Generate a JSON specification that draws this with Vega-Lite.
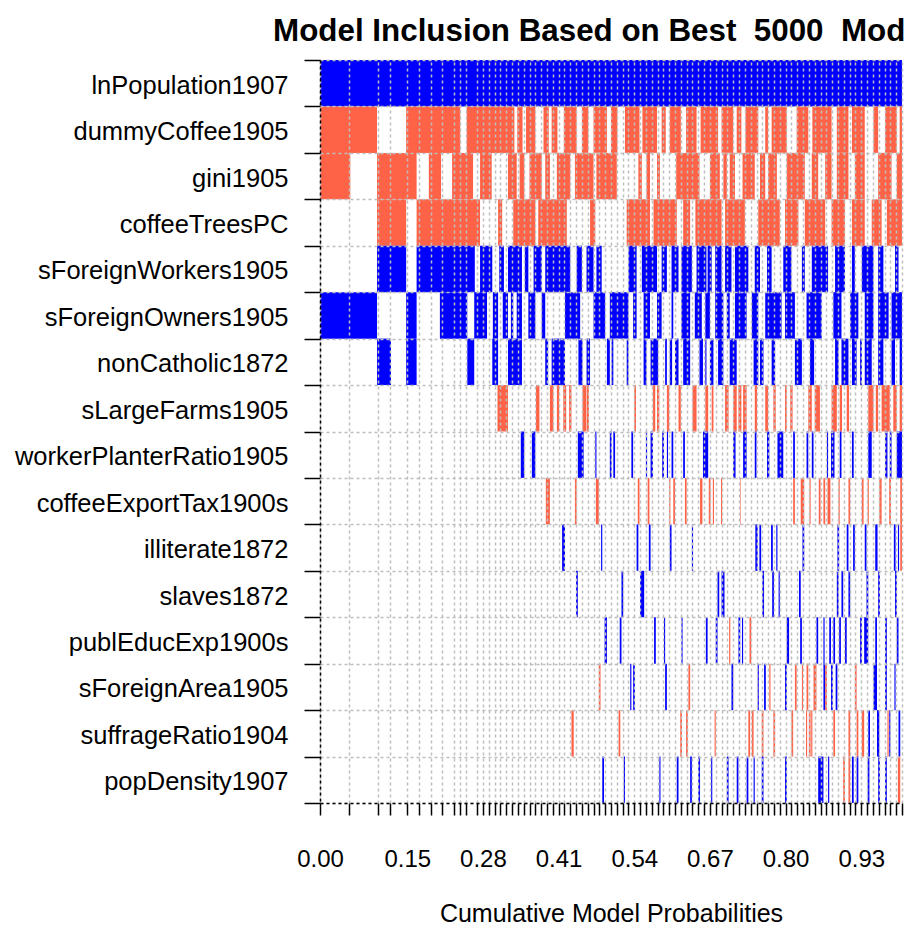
{
"$schema":"https://vega.github.io/schema/vega-lite/v6.json",
"width":582,"height":743,
"autosize":{"type":"none"},
"padding":{"left":320,"top":60,"right":3,"bottom":126},
"background":"white",
"title":{"text":"Model Inclusion Based on Best\u00a0 5000\u00a0 Models","font":"Liberation Sans","fontSize":31.35,"fontWeight":"bold","color":"#000000","anchor":"middle","frame":"group","offset":1},
"config":{"view":{"stroke":null}},
"data":{"values":[
{"v":"lnPopulation1907","a":0,"b":1,"s":"+"},
{"v":"dummyCoffee1905","a":0,"b":0.098,"s":"-"},{"v":"dummyCoffee1905","a":0.148,"b":0.241,"s":"-"},{"v":"dummyCoffee1905","a":0.252,"b":0.334,"s":"-"},{"v":"dummyCoffee1905","a":0.339,"b":0.348,"s":"-"},{"v":"dummyCoffee1905","a":0.354,"b":0.37,"s":"-"},{"v":"dummyCoffee1905","a":0.384,"b":0.393,"s":"-"},{"v":"dummyCoffee1905","a":0.398,"b":0.408,"s":"-"},{"v":"dummyCoffee1905","a":0.419,"b":0.441,"s":"-"},{"v":"dummyCoffee1905","a":0.45,"b":0.461,"s":"-"},{"v":"dummyCoffee1905","a":0.47,"b":0.493,"s":"-"},{"v":"dummyCoffee1905","a":0.5,"b":0.511,"s":"-"},{"v":"dummyCoffee1905","a":0.524,"b":0.549,"s":"-"},{"v":"dummyCoffee1905","a":0.554,"b":0.579,"s":"-"},{"v":"dummyCoffee1905","a":0.587,"b":0.594,"s":"-"},{"v":"dummyCoffee1905","a":0.601,"b":0.62,"s":"-"},{"v":"dummyCoffee1905","a":0.629,"b":0.647,"s":"-"},{"v":"dummyCoffee1905","a":0.654,"b":0.684,"s":"-"},{"v":"dummyCoffee1905","a":0.69,"b":0.71,"s":"-"},{"v":"dummyCoffee1905","a":0.716,"b":0.724,"s":"-"},{"v":"dummyCoffee1905","a":0.731,"b":0.753,"s":"-"},{"v":"dummyCoffee1905","a":0.765,"b":0.77,"s":"-"},{"v":"dummyCoffee1905","a":0.776,"b":0.802,"s":"-"},{"v":"dummyCoffee1905","a":0.819,"b":0.839,"s":"-"},{"v":"dummyCoffee1905","a":0.846,"b":0.879,"s":"-"},{"v":"dummyCoffee1905","a":0.888,"b":0.908,"s":"-"},{"v":"dummyCoffee1905","a":0.914,"b":0.936,"s":"-"},{"v":"dummyCoffee1905","a":0.951,"b":0.959,"s":"-"},{"v":"dummyCoffee1905","a":0.971,"b":0.991,"s":"-"},{"v":"dummyCoffee1905","a":0.996,"b":1,"s":"-"},
{"v":"gini1905","a":0,"b":0.052,"s":"-"},{"v":"gini1905","a":0.098,"b":0.166,"s":"-"},{"v":"gini1905","a":0.187,"b":0.208,"s":"-"},{"v":"gini1905","a":0.227,"b":0.263,"s":"-"},{"v":"gini1905","a":0.275,"b":0.295,"s":"-"},{"v":"gini1905","a":0.323,"b":0.338,"s":"-"},{"v":"gini1905","a":0.343,"b":0.351,"s":"-"},{"v":"gini1905","a":0.36,"b":0.381,"s":"-"},{"v":"gini1905","a":0.387,"b":0.395,"s":"-"},{"v":"gini1905","a":0.407,"b":0.43,"s":"-"},{"v":"gini1905","a":0.438,"b":0.47,"s":"-"},{"v":"gini1905","a":0.475,"b":0.51,"s":"-"},{"v":"gini1905","a":0.547,"b":0.553,"s":"-"},{"v":"gini1905","a":0.561,"b":0.567,"s":"-"},{"v":"gini1905","a":0.579,"b":0.584,"s":"-"},{"v":"gini1905","a":0.612,"b":0.652,"s":"-"},{"v":"gini1905","a":0.67,"b":0.687,"s":"-"},{"v":"gini1905","a":0.693,"b":0.699,"s":"-"},{"v":"gini1905","a":0.704,"b":0.713,"s":"-"},{"v":"gini1905","a":0.726,"b":0.747,"s":"-"},{"v":"gini1905","a":0.756,"b":0.765,"s":"-"},{"v":"gini1905","a":0.77,"b":0.785,"s":"-"},{"v":"gini1905","a":0.802,"b":0.833,"s":"-"},{"v":"gini1905","a":0.845,"b":0.856,"s":"-"},{"v":"gini1905","a":0.868,"b":0.879,"s":"-"},{"v":"gini1905","a":0.888,"b":0.908,"s":"-"},{"v":"gini1905","a":0.919,"b":0.936,"s":"-"},{"v":"gini1905","a":0.959,"b":0.982,"s":"-"},{"v":"gini1905","a":0.991,"b":1,"s":"-"},
{"v":"coffeeTreesPC","a":0.098,"b":0.148,"s":"-"},{"v":"coffeeTreesPC","a":0.166,"b":0.275,"s":"-"},{"v":"coffeeTreesPC","a":0.306,"b":0.313,"s":"-"},{"v":"coffeeTreesPC","a":0.332,"b":0.37,"s":"-"},{"v":"coffeeTreesPC","a":0.375,"b":0.424,"s":"-"},{"v":"coffeeTreesPC","a":0.464,"b":0.473,"s":"-"},{"v":"coffeeTreesPC","a":0.527,"b":0.567,"s":"-"},{"v":"coffeeTreesPC","a":0.573,"b":0.613,"s":"-"},{"v":"coffeeTreesPC","a":0.624,"b":0.636,"s":"-"},{"v":"coffeeTreesPC","a":0.645,"b":0.69,"s":"-"},{"v":"coffeeTreesPC","a":0.696,"b":0.73,"s":"-"},{"v":"coffeeTreesPC","a":0.753,"b":0.79,"s":"-"},{"v":"coffeeTreesPC","a":0.799,"b":0.822,"s":"-"},{"v":"coffeeTreesPC","a":0.833,"b":0.868,"s":"-"},{"v":"coffeeTreesPC","a":0.879,"b":0.902,"s":"-"},{"v":"coffeeTreesPC","a":0.914,"b":0.936,"s":"-"},{"v":"coffeeTreesPC","a":0.948,"b":0.965,"s":"-"},{"v":"coffeeTreesPC","a":0.974,"b":1,"s":"-"},
{"v":"sForeignWorkers1905","a":0.098,"b":0.148,"s":"+"},{"v":"sForeignWorkers1905","a":0.166,"b":0.266,"s":"+"},{"v":"sForeignWorkers1905","a":0.275,"b":0.296,"s":"+"},{"v":"sForeignWorkers1905","a":0.308,"b":0.316,"s":"+"},{"v":"sForeignWorkers1905","a":0.323,"b":0.347,"s":"+"},{"v":"sForeignWorkers1905","a":0.352,"b":0.358,"s":"+"},{"v":"sForeignWorkers1905","a":0.367,"b":0.381,"s":"+"},{"v":"sForeignWorkers1905","a":0.387,"b":0.43,"s":"+"},{"v":"sForeignWorkers1905","a":0.441,"b":0.45,"s":"+"},{"v":"sForeignWorkers1905","a":0.458,"b":0.47,"s":"+"},{"v":"sForeignWorkers1905","a":0.475,"b":0.484,"s":"+"},{"v":"sForeignWorkers1905","a":0.53,"b":0.544,"s":"+"},{"v":"sForeignWorkers1905","a":0.553,"b":0.579,"s":"+"},{"v":"sForeignWorkers1905","a":0.587,"b":0.596,"s":"+"},{"v":"sForeignWorkers1905","a":0.604,"b":0.616,"s":"+"},{"v":"sForeignWorkers1905","a":0.621,"b":0.639,"s":"+"},{"v":"sForeignWorkers1905","a":0.647,"b":0.664,"s":"+"},{"v":"sForeignWorkers1905","a":0.666,"b":0.673,"s":"+"},{"v":"sForeignWorkers1905","a":0.679,"b":0.69,"s":"+"},{"v":"sForeignWorkers1905","a":0.696,"b":0.707,"s":"+"},{"v":"sForeignWorkers1905","a":0.713,"b":0.736,"s":"+"},{"v":"sForeignWorkers1905","a":0.747,"b":0.756,"s":"+"},{"v":"sForeignWorkers1905","a":0.768,"b":0.776,"s":"+"},{"v":"sForeignWorkers1905","a":0.796,"b":0.81,"s":"+"},{"v":"sForeignWorkers1905","a":0.828,"b":0.833,"s":"+"},{"v":"sForeignWorkers1905","a":0.845,"b":0.873,"s":"+"},{"v":"sForeignWorkers1905","a":0.885,"b":0.902,"s":"+"},{"v":"sForeignWorkers1905","a":0.914,"b":0.919,"s":"+"},{"v":"sForeignWorkers1905","a":0.931,"b":0.951,"s":"+"},{"v":"sForeignWorkers1905","a":0.959,"b":0.968,"s":"+"},{"v":"sForeignWorkers1905","a":0.988,"b":0.994,"s":"+"},
{"v":"sForeignOwners1905","a":0,"b":0.098,"s":"+"},{"v":"sForeignOwners1905","a":0.148,"b":0.166,"s":"+"},{"v":"sForeignOwners1905","a":0.206,"b":0.253,"s":"+"},{"v":"sForeignOwners1905","a":0.265,"b":0.287,"s":"+"},{"v":"sForeignOwners1905","a":0.297,"b":0.306,"s":"+"},{"v":"sForeignOwners1905","a":0.314,"b":0.323,"s":"+"},{"v":"sForeignOwners1905","a":0.328,"b":0.332,"s":"+"},{"v":"sForeignOwners1905","a":0.338,"b":0.347,"s":"+"},{"v":"sForeignOwners1905","a":0.358,"b":0.37,"s":"+"},{"v":"sForeignOwners1905","a":0.381,"b":0.387,"s":"+"},{"v":"sForeignOwners1905","a":0.421,"b":0.447,"s":"+"},{"v":"sForeignOwners1905","a":0.47,"b":0.49,"s":"+"},{"v":"sForeignOwners1905","a":0.498,"b":0.53,"s":"+"},{"v":"sForeignOwners1905","a":0.538,"b":0.544,"s":"+"},{"v":"sForeignOwners1905","a":0.556,"b":0.567,"s":"+"},{"v":"sForeignOwners1905","a":0.579,"b":0.587,"s":"+"},{"v":"sForeignOwners1905","a":0.604,"b":0.607,"s":"+"},{"v":"sForeignOwners1905","a":0.621,"b":0.636,"s":"+"},{"v":"sForeignOwners1905","a":0.644,"b":0.656,"s":"+"},{"v":"sForeignOwners1905","a":0.662,"b":0.67,"s":"+"},{"v":"sForeignOwners1905","a":0.679,"b":0.693,"s":"+"},{"v":"sForeignOwners1905","a":0.699,"b":0.704,"s":"+"},{"v":"sForeignOwners1905","a":0.713,"b":0.733,"s":"+"},{"v":"sForeignOwners1905","a":0.742,"b":0.753,"s":"+"},{"v":"sForeignOwners1905","a":0.765,"b":0.793,"s":"+"},{"v":"sForeignOwners1905","a":0.799,"b":0.816,"s":"+"},{"v":"sForeignOwners1905","a":0.836,"b":0.862,"s":"+"},{"v":"sForeignOwners1905","a":0.882,"b":0.896,"s":"+"},{"v":"sForeignOwners1905","a":0.911,"b":0.925,"s":"+"},{"v":"sForeignOwners1905","a":0.936,"b":0.951,"s":"+"},{"v":"sForeignOwners1905","a":0.959,"b":0.977,"s":"+"},{"v":"sForeignOwners1905","a":0.982,"b":1,"s":"+"},
{"v":"nonCatholic1872","a":0.098,"b":0.122,"s":"+"},{"v":"nonCatholic1872","a":0.148,"b":0.166,"s":"+"},{"v":"nonCatholic1872","a":0.253,"b":0.265,"s":"+"},{"v":"nonCatholic1872","a":0.296,"b":0.306,"s":"+"},{"v":"nonCatholic1872","a":0.323,"b":0.347,"s":"+"},{"v":"nonCatholic1872","a":0.387,"b":0.392,"s":"+"},{"v":"nonCatholic1872","a":0.398,"b":0.421,"s":"+"},{"v":"nonCatholic1872","a":0.444,"b":0.451,"s":"+"},{"v":"nonCatholic1872","a":0.458,"b":0.464,"s":"+"},{"v":"nonCatholic1872","a":0.493,"b":0.498,"s":"+"},{"v":"nonCatholic1872","a":0.501,"b":0.504,"s":"+"},{"v":"nonCatholic1872","a":0.527,"b":0.53,"s":"+"},{"v":"nonCatholic1872","a":0.556,"b":0.561,"s":"+"},{"v":"nonCatholic1872","a":0.568,"b":0.581,"s":"+"},{"v":"nonCatholic1872","a":0.593,"b":0.596,"s":"+"},{"v":"nonCatholic1872","a":0.601,"b":0.605,"s":"+"},{"v":"nonCatholic1872","a":0.61,"b":0.616,"s":"+"},{"v":"nonCatholic1872","a":0.624,"b":0.636,"s":"+"},{"v":"nonCatholic1872","a":0.652,"b":0.658,"s":"+"},{"v":"nonCatholic1872","a":0.662,"b":0.664,"s":"+"},{"v":"nonCatholic1872","a":0.67,"b":0.676,"s":"+"},{"v":"nonCatholic1872","a":0.684,"b":0.693,"s":"+"},{"v":"nonCatholic1872","a":0.704,"b":0.716,"s":"+"},{"v":"nonCatholic1872","a":0.745,"b":0.753,"s":"+"},{"v":"nonCatholic1872","a":0.756,"b":0.762,"s":"+"},{"v":"nonCatholic1872","a":0.776,"b":0.782,"s":"+"},{"v":"nonCatholic1872","a":0.816,"b":0.828,"s":"+"},{"v":"nonCatholic1872","a":0.842,"b":0.849,"s":"+"},{"v":"nonCatholic1872","a":0.885,"b":0.891,"s":"+"},{"v":"nonCatholic1872","a":0.896,"b":0.908,"s":"+"},{"v":"nonCatholic1872","a":0.914,"b":0.922,"s":"+"},{"v":"nonCatholic1872","a":0.928,"b":0.931,"s":"+"},{"v":"nonCatholic1872","a":0.936,"b":0.948,"s":"+"},{"v":"nonCatholic1872","a":0.959,"b":0.968,"s":"+"},{"v":"nonCatholic1872","a":0.982,"b":0.988,"s":"+"},{"v":"nonCatholic1872","a":0.996,"b":1,"s":"+"},
{"v":"sLargeFarms1905","a":0.305,"b":0.323,"s":"-"},{"v":"sLargeFarms1905","a":0.371,"b":0.377,"s":"-"},{"v":"sLargeFarms1905","a":0.395,"b":0.401,"s":"-"},{"v":"sLargeFarms1905","a":0.407,"b":0.411,"s":"-"},{"v":"sLargeFarms1905","a":0.418,"b":0.423,"s":"-"},{"v":"sLargeFarms1905","a":0.428,"b":0.432,"s":"-"},{"v":"sLargeFarms1905","a":0.451,"b":0.457,"s":"-"},{"v":"sLargeFarms1905","a":0.458,"b":0.462,"s":"-"},{"v":"sLargeFarms1905","a":0.54,"b":0.543,"s":"-"},{"v":"sLargeFarms1905","a":0.572,"b":0.576,"s":"-"},{"v":"sLargeFarms1905","a":0.579,"b":0.583,"s":"-"},{"v":"sLargeFarms1905","a":0.596,"b":0.6,"s":"-"},{"v":"sLargeFarms1905","a":0.616,"b":0.62,"s":"-"},{"v":"sLargeFarms1905","a":0.64,"b":0.647,"s":"-"},{"v":"sLargeFarms1905","a":0.662,"b":0.667,"s":"-"},{"v":"sLargeFarms1905","a":0.673,"b":0.676,"s":"-"},{"v":"sLargeFarms1905","a":0.696,"b":0.702,"s":"-"},{"v":"sLargeFarms1905","a":0.71,"b":0.716,"s":"-"},{"v":"sLargeFarms1905","a":0.719,"b":0.724,"s":"-"},{"v":"sLargeFarms1905","a":0.727,"b":0.733,"s":"-"},{"v":"sLargeFarms1905","a":0.747,"b":0.751,"s":"-"},{"v":"sLargeFarms1905","a":0.765,"b":0.77,"s":"-"},{"v":"sLargeFarms1905","a":0.779,"b":0.783,"s":"-"},{"v":"sLargeFarms1905","a":0.799,"b":0.802,"s":"-"},{"v":"sLargeFarms1905","a":0.808,"b":0.812,"s":"-"},{"v":"sLargeFarms1905","a":0.839,"b":0.845,"s":"-"},{"v":"sLargeFarms1905","a":0.85,"b":0.859,"s":"-"},{"v":"sLargeFarms1905","a":0.879,"b":0.888,"s":"-"},{"v":"sLargeFarms1905","a":0.893,"b":0.897,"s":"-"},{"v":"sLargeFarms1905","a":0.905,"b":0.909,"s":"-"},{"v":"sLargeFarms1905","a":0.942,"b":0.951,"s":"-"},{"v":"sLargeFarms1905","a":0.955,"b":0.959,"s":"-"},{"v":"sLargeFarms1905","a":0.965,"b":0.979,"s":"-"},{"v":"sLargeFarms1905","a":0.985,"b":0.991,"s":"-"},{"v":"sLargeFarms1905","a":0.996,"b":1,"s":"-"},
{"v":"workerPlanterRatio1905","a":0.345,"b":0.351,"s":"+"},{"v":"workerPlanterRatio1905","a":0.364,"b":0.37,"s":"+"},{"v":"workerPlanterRatio1905","a":0.443,"b":0.453,"s":"+"},{"v":"workerPlanterRatio1905","a":0.473,"b":0.475,"s":"+"},{"v":"workerPlanterRatio1905","a":0.498,"b":0.501,"s":"+"},{"v":"workerPlanterRatio1905","a":0.504,"b":0.507,"s":"+"},{"v":"workerPlanterRatio1905","a":0.535,"b":0.538,"s":"+"},{"v":"workerPlanterRatio1905","a":0.56,"b":0.562,"s":"+"},{"v":"workerPlanterRatio1905","a":0.568,"b":0.572,"s":"+"},{"v":"workerPlanterRatio1905","a":0.588,"b":0.591,"s":"+"},{"v":"workerPlanterRatio1905","a":0.596,"b":0.598,"s":"+"},{"v":"workerPlanterRatio1905","a":0.604,"b":0.607,"s":"+"},{"v":"workerPlanterRatio1905","a":0.624,"b":0.627,"s":"+"},{"v":"workerPlanterRatio1905","a":0.658,"b":0.667,"s":"+"},{"v":"workerPlanterRatio1905","a":0.71,"b":0.714,"s":"+"},{"v":"workerPlanterRatio1905","a":0.727,"b":0.733,"s":"+"},{"v":"workerPlanterRatio1905","a":0.747,"b":0.75,"s":"+"},{"v":"workerPlanterRatio1905","a":0.768,"b":0.772,"s":"+"},{"v":"workerPlanterRatio1905","a":0.786,"b":0.796,"s":"+"},{"v":"workerPlanterRatio1905","a":0.813,"b":0.816,"s":"+"},{"v":"workerPlanterRatio1905","a":0.836,"b":0.839,"s":"+"},{"v":"workerPlanterRatio1905","a":0.845,"b":0.848,"s":"+"},{"v":"workerPlanterRatio1905","a":0.871,"b":0.873,"s":"+"},{"v":"workerPlanterRatio1905","a":0.878,"b":0.884,"s":"+"},{"v":"workerPlanterRatio1905","a":0.893,"b":0.896,"s":"+"},{"v":"workerPlanterRatio1905","a":0.914,"b":0.917,"s":"+"},{"v":"workerPlanterRatio1905","a":0.942,"b":0.948,"s":"+"},{"v":"workerPlanterRatio1905","a":0.971,"b":0.975,"s":"+"},{"v":"workerPlanterRatio1905","a":0.979,"b":0.982,"s":"+"},{"v":"workerPlanterRatio1905","a":0.991,"b":1,"s":"+"},
{"v":"coffeeExportTax1900s","a":0.388,"b":0.395,"s":"-"},{"v":"coffeeExportTax1900s","a":0.438,"b":0.441,"s":"-"},{"v":"coffeeExportTax1900s","a":0.474,"b":0.479,"s":"-"},{"v":"coffeeExportTax1900s","a":0.546,"b":0.549,"s":"-"},{"v":"coffeeExportTax1900s","a":0.563,"b":0.566,"s":"-"},{"v":"coffeeExportTax1900s","a":0.6,"b":0.602,"s":"-"},{"v":"coffeeExportTax1900s","a":0.607,"b":0.61,"s":"-"},{"v":"coffeeExportTax1900s","a":0.627,"b":0.63,"s":"-"},{"v":"coffeeExportTax1900s","a":0.653,"b":0.657,"s":"-"},{"v":"coffeeExportTax1900s","a":0.668,"b":0.671,"s":"-"},{"v":"coffeeExportTax1900s","a":0.675,"b":0.677,"s":"-"},{"v":"coffeeExportTax1900s","a":0.689,"b":0.691,"s":"-"},{"v":"coffeeExportTax1900s","a":0.722,"b":0.723,"s":"-"},{"v":"coffeeExportTax1900s","a":0.813,"b":0.816,"s":"-"},{"v":"coffeeExportTax1900s","a":0.826,"b":0.832,"s":"-"},{"v":"coffeeExportTax1900s","a":0.841,"b":0.843,"s":"-"},{"v":"coffeeExportTax1900s","a":0.857,"b":0.86,"s":"-"},{"v":"coffeeExportTax1900s","a":0.865,"b":0.868,"s":"-"},{"v":"coffeeExportTax1900s","a":0.872,"b":0.877,"s":"-"},{"v":"coffeeExportTax1900s","a":0.891,"b":0.893,"s":"-"},{"v":"coffeeExportTax1900s","a":0.908,"b":0.911,"s":"-"},{"v":"coffeeExportTax1900s","a":0.931,"b":0.934,"s":"-"},{"v":"coffeeExportTax1900s","a":0.941,"b":0.943,"s":"-"},{"v":"coffeeExportTax1900s","a":0.961,"b":0.965,"s":"-"},{"v":"coffeeExportTax1900s","a":0.978,"b":0.981,"s":"-"},{"v":"coffeeExportTax1900s","a":0.997,"b":1,"s":"-"},
{"v":"illiterate1872","a":0.416,"b":0.421,"s":"+"},{"v":"illiterate1872","a":0.483,"b":0.485,"s":"+"},{"v":"illiterate1872","a":0.544,"b":0.547,"s":"+"},{"v":"illiterate1872","a":0.565,"b":0.568,"s":"+"},{"v":"illiterate1872","a":0.601,"b":0.604,"s":"+"},{"v":"illiterate1872","a":0.639,"b":0.641,"s":"+"},{"v":"illiterate1872","a":0.748,"b":0.752,"s":"+"},{"v":"illiterate1872","a":0.755,"b":0.758,"s":"+"},{"v":"illiterate1872","a":0.775,"b":0.778,"s":"+"},{"v":"illiterate1872","a":0.784,"b":0.786,"s":"+"},{"v":"illiterate1872","a":0.829,"b":0.832,"s":"+"},{"v":"illiterate1872","a":0.889,"b":0.892,"s":"+"},{"v":"illiterate1872","a":0.905,"b":0.908,"s":"+"},{"v":"illiterate1872","a":0.916,"b":0.919,"s":"+"},{"v":"illiterate1872","a":0.936,"b":0.939,"s":"+"},{"v":"illiterate1872","a":0.954,"b":0.958,"s":"+"},{"v":"illiterate1872","a":0.986,"b":0.989,"s":"+"},{"v":"illiterate1872","a":0.993,"b":0.995,"s":"+"},{"v":"illiterate1872","a":0.997,"b":1,"s":"-"},
{"v":"slaves1872","a":0.44,"b":0.443,"s":"+"},{"v":"slaves1872","a":0.518,"b":0.521,"s":"+"},{"v":"slaves1872","a":0.55,"b":0.557,"s":"+"},{"v":"slaves1872","a":0.683,"b":0.686,"s":"+"},{"v":"slaves1872","a":0.69,"b":0.695,"s":"+"},{"v":"slaves1872","a":0.76,"b":0.763,"s":"+"},{"v":"slaves1872","a":0.777,"b":0.78,"s":"+"},{"v":"slaves1872","a":0.788,"b":0.79,"s":"+"},{"v":"slaves1872","a":0.823,"b":0.826,"s":"+"},{"v":"slaves1872","a":0.888,"b":0.891,"s":"+"},{"v":"slaves1872","a":0.896,"b":0.899,"s":"+"},{"v":"slaves1872","a":0.908,"b":0.911,"s":"+"},{"v":"slaves1872","a":0.939,"b":0.942,"s":"+"},{"v":"slaves1872","a":0.959,"b":0.962,"s":"+"},{"v":"slaves1872","a":0.988,"b":0.991,"s":"+"},
{"v":"publEducExp1900s","a":0.489,"b":0.493,"s":"+"},{"v":"publEducExp1900s","a":0.515,"b":0.518,"s":"+"},{"v":"publEducExp1900s","a":0.574,"b":0.577,"s":"+"},{"v":"publEducExp1900s","a":0.591,"b":0.593,"s":"+"},{"v":"publEducExp1900s","a":0.621,"b":0.623,"s":"+"},{"v":"publEducExp1900s","a":0.663,"b":0.666,"s":"+"},{"v":"publEducExp1900s","a":0.68,"b":0.683,"s":"+"},{"v":"publEducExp1900s","a":0.703,"b":0.705,"s":"-"},{"v":"publEducExp1900s","a":0.719,"b":0.722,"s":"+"},{"v":"publEducExp1900s","a":0.725,"b":0.727,"s":"+"},{"v":"publEducExp1900s","a":0.738,"b":0.741,"s":"-"},{"v":"publEducExp1900s","a":0.802,"b":0.806,"s":"+"},{"v":"publEducExp1900s","a":0.825,"b":0.828,"s":"+"},{"v":"publEducExp1900s","a":0.853,"b":0.856,"s":"+"},{"v":"publEducExp1900s","a":0.865,"b":0.867,"s":"+"},{"v":"publEducExp1900s","a":0.875,"b":0.878,"s":"+"},{"v":"publEducExp1900s","a":0.882,"b":0.885,"s":"+"},{"v":"publEducExp1900s","a":0.892,"b":0.895,"s":"+"},{"v":"publEducExp1900s","a":0.902,"b":0.905,"s":"+"},{"v":"publEducExp1900s","a":0.928,"b":0.931,"s":"+"},{"v":"publEducExp1900s","a":0.935,"b":0.942,"s":"+"},{"v":"publEducExp1900s","a":0.954,"b":0.957,"s":"+"},{"v":"publEducExp1900s","a":0.971,"b":0.974,"s":"+"},{"v":"publEducExp1900s","a":0.991,"b":0.994,"s":"+"},
{"v":"sForeignArea1905","a":0.479,"b":0.482,"s":"-"},{"v":"sForeignArea1905","a":0.533,"b":0.535,"s":"+"},{"v":"sForeignArea1905","a":0.538,"b":0.541,"s":"+"},{"v":"sForeignArea1905","a":0.593,"b":0.596,"s":"+"},{"v":"sForeignArea1905","a":0.633,"b":0.636,"s":"-"},{"v":"sForeignArea1905","a":0.707,"b":0.71,"s":"+"},{"v":"sForeignArea1905","a":0.752,"b":0.754,"s":"+"},{"v":"sForeignArea1905","a":0.763,"b":0.766,"s":"+"},{"v":"sForeignArea1905","a":0.772,"b":0.774,"s":"-"},{"v":"sForeignArea1905","a":0.799,"b":0.802,"s":"+"},{"v":"sForeignArea1905","a":0.816,"b":0.819,"s":"-"},{"v":"sForeignArea1905","a":0.828,"b":0.83,"s":"-"},{"v":"sForeignArea1905","a":0.836,"b":0.839,"s":"-"},{"v":"sForeignArea1905","a":0.848,"b":0.853,"s":"-"},{"v":"sForeignArea1905","a":0.865,"b":0.868,"s":"+"},{"v":"sForeignArea1905","a":0.868,"b":0.871,"s":"-"},{"v":"sForeignArea1905","a":0.878,"b":0.881,"s":"+"},{"v":"sForeignArea1905","a":0.886,"b":0.889,"s":"+"},{"v":"sForeignArea1905","a":0.919,"b":0.922,"s":"-"},{"v":"sForeignArea1905","a":0.951,"b":0.957,"s":"+"},{"v":"sForeignArea1905","a":0.971,"b":0.974,"s":"+"},{"v":"sForeignArea1905","a":0.987,"b":0.989,"s":"+"},
{"v":"suffrageRatio1904","a":0.432,"b":0.436,"s":"-"},{"v":"suffrageRatio1904","a":0.513,"b":0.516,"s":"-"},{"v":"suffrageRatio1904","a":0.619,"b":0.622,"s":"-"},{"v":"suffrageRatio1904","a":0.629,"b":0.632,"s":"-"},{"v":"suffrageRatio1904","a":0.678,"b":0.68,"s":"-"},{"v":"suffrageRatio1904","a":0.736,"b":0.739,"s":"-"},{"v":"suffrageRatio1904","a":0.742,"b":0.745,"s":"-"},{"v":"suffrageRatio1904","a":0.759,"b":0.762,"s":"-"},{"v":"suffrageRatio1904","a":0.779,"b":0.782,"s":"-"},{"v":"suffrageRatio1904","a":0.81,"b":0.813,"s":"-"},{"v":"suffrageRatio1904","a":0.835,"b":0.837,"s":"-"},{"v":"suffrageRatio1904","a":0.84,"b":0.843,"s":"-"},{"v":"suffrageRatio1904","a":0.844,"b":0.846,"s":"-"},{"v":"suffrageRatio1904","a":0.882,"b":0.885,"s":"-"},{"v":"suffrageRatio1904","a":0.908,"b":0.911,"s":"-"},{"v":"suffrageRatio1904","a":0.922,"b":0.925,"s":"-"},{"v":"suffrageRatio1904","a":0.931,"b":0.935,"s":"-"},{"v":"suffrageRatio1904","a":0.942,"b":0.945,"s":"+"},{"v":"suffrageRatio1904","a":0.957,"b":0.961,"s":"+"},{"v":"suffrageRatio1904","a":0.975,"b":0.977,"s":"-"},{"v":"suffrageRatio1904","a":0.978,"b":0.98,"s":"+"},{"v":"suffrageRatio1904","a":0.994,"b":0.997,"s":"+"},
{"v":"popDensity1907","a":0.485,"b":0.488,"s":"+"},{"v":"popDensity1907","a":0.522,"b":0.524,"s":"+"},{"v":"popDensity1907","a":0.583,"b":0.585,"s":"+"},{"v":"popDensity1907","a":0.613,"b":0.616,"s":"+"},{"v":"popDensity1907","a":0.636,"b":0.639,"s":"+"},{"v":"popDensity1907","a":0.65,"b":0.653,"s":"+"},{"v":"popDensity1907","a":0.672,"b":0.674,"s":"+"},{"v":"popDensity1907","a":0.699,"b":0.702,"s":"+"},{"v":"popDensity1907","a":0.716,"b":0.719,"s":"+"},{"v":"popDensity1907","a":0.733,"b":0.736,"s":"+"},{"v":"popDensity1907","a":0.745,"b":0.747,"s":"+"},{"v":"popDensity1907","a":0.759,"b":0.762,"s":"+"},{"v":"popDensity1907","a":0.799,"b":0.802,"s":"+"},{"v":"popDensity1907","a":0.856,"b":0.865,"s":"+"},{"v":"popDensity1907","a":0.873,"b":0.875,"s":"+"},{"v":"popDensity1907","a":0.899,"b":0.902,"s":"-"},{"v":"popDensity1907","a":0.908,"b":0.911,"s":"-"},{"v":"popDensity1907","a":0.914,"b":0.917,"s":"+"},{"v":"popDensity1907","a":0.922,"b":0.925,"s":"+"},{"v":"popDensity1907","a":0.941,"b":0.944,"s":"+"},{"v":"popDensity1907","a":0.959,"b":0.962,"s":"+"},{"v":"popDensity1907","a":0.971,"b":0.974,"s":"+"},{"v":"popDensity1907","a":0.993,"b":0.997,"s":"-"}
]},
"mark":{"type":"rect"},
"encoding":{
"x":{"field":"a","type":"quantitative","title":"Cumulative Model Probabilities","scale":{"domain":[0,1],"nice":false,"zero":false},
 "axis":{"values":[0,0.05,0.1,0.12,0.15,0.17,0.19,0.21,0.23,0.24,0.25,0.27,0.28,0.29,0.3,0.31,0.32,0.33,0.34,0.35,0.36,0.37,0.38,0.39,0.4,0.41,0.42,0.43,0.44,0.45,0.46,0.47,0.48,0.49,0.5,0.51,0.52,0.53,0.54,0.55,0.56,0.57,0.58,0.59,0.6,0.61,0.62,0.63,0.64,0.65,0.66,0.67,0.68,0.69,0.7,0.71,0.72,0.73,0.74,0.75,0.76,0.77,0.78,0.79,0.8,0.81,0.82,0.83,0.84,0.85,0.86,0.87,0.88,0.89,0.9,0.91,0.92,0.93,0.94,0.95,0.96,0.97,0.98,0.99,1],
  "labelExpr":"indexof([0,0.15,0.28,0.41,0.54,0.67,0.8,0.93], datum.value) >= 0 ? format(datum.value, '.2f') : ''",
  "labelOverlap":false,"labelFlush":false,"labelBound":false,
  "grid":true,"gridColor":"#bebebe","gridDash":[3,3],"gridWidth":1.5,"zindex":1,
  "domainColor":"#000000","domainDash":[3,3],"domainWidth":1.5,
  "tickColor":"#000000","tickSize":12,"tickWidth":1.5,
  "labelFont":"Liberation Sans","labelFontSize":24,"labelColor":"#000000","labelBaseline":"alphabetic","labelPadding":51,
  "titleFont":"Liberation Sans","titleFontSize":25,"titleFontWeight":"normal","titleColor":"#000000","titleBaseline":"alphabetic","titleY":118}},
"x2":{"field":"b"},
"y":{"field":"v","type":"nominal","title":null,
 "sort":["lnPopulation1907","dummyCoffee1905","gini1905","coffeeTreesPC","sForeignWorkers1905","sForeignOwners1905","nonCatholic1872","sLargeFarms1905","workerPlanterRatio1905","coffeeExportTax1900s","illiterate1872","slaves1872","publEducExp1900s","sForeignArea1905","suffrageRatio1904","popDensity1907"],
 "scale":{"paddingInner":0,"paddingOuter":0},
 "axis":{"tickBand":"extent","grid":true,"gridColor":"#bebebe","gridDash":[3,3],"gridWidth":1.5,"zindex":1,
  "domainColor":"#000000","domainDash":[3,3],"domainWidth":1.5,
  "tickColor":"#000000","tickSize":16,"tickWidth":1.5,
  "labelFont":"Liberation Sans","labelFontSize":25.5,"labelColor":"#000000","labelPadding":16,"labelOffset":2,"labelLimit":400}},
"color":{"field":"s","type":"nominal","scale":{"domain":["+","-"],"range":["#0000ff","#ff6347"]},"legend":null}
}
}
